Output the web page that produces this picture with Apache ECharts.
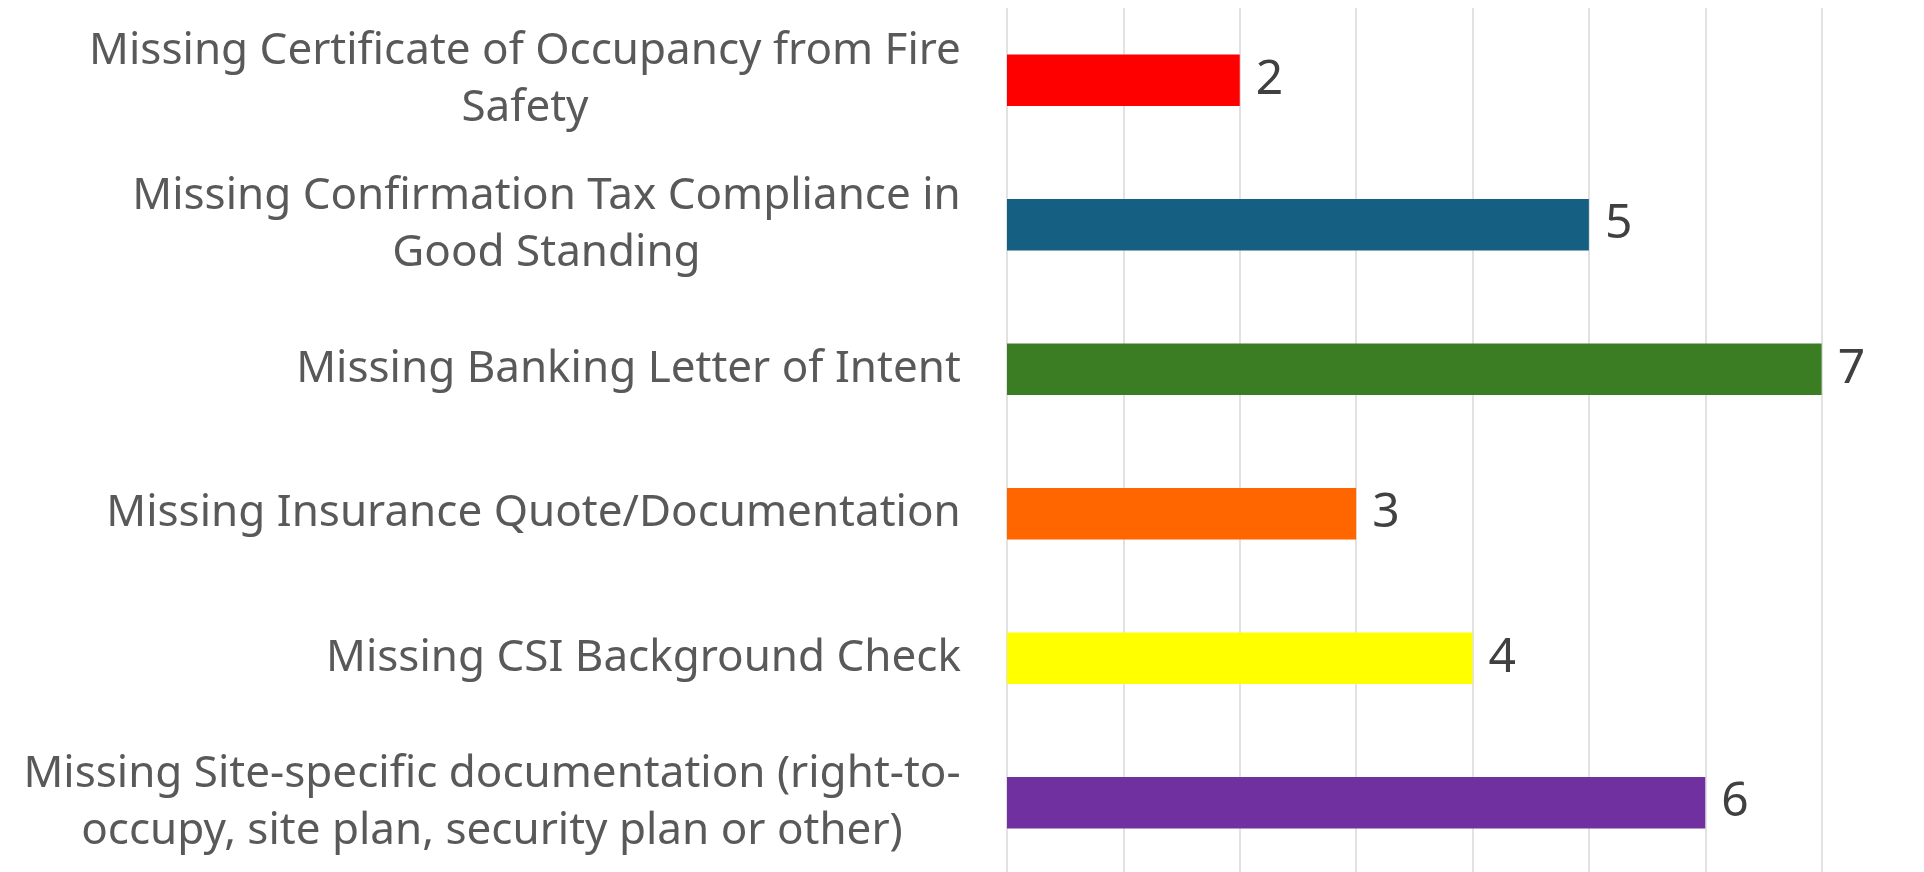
<!DOCTYPE html>
<html>
<head>
<meta charset="utf-8">
<script src="https://cdn.jsdelivr.net/npm/echarts@6/dist/echarts.min.js"></script>
<style>
  html, body { margin: 0; padding: 0; background: #fff; }
  #chart { width: 1924px; height: 872px; }
</style>
</head>
<body>
<div id="chart"></div>
<script>
// categories top to bottom, line breaks as in the original
const categories = [
  'Missing Certificate of Occupancy from Fire\nSafety',
  'Missing Confirmation Tax Compliance in\nGood Standing',
  'Missing Banking Letter of Intent',
  'Missing Insurance Quote/Documentation',
  'Missing CSI Background Check',
  'Missing Site-specific documentation (right-to-\noccupy, site plan, security plan or other)'
]
const counts = [2, 5, 7, 3, 4, 6]
const barColors = ['#FF0000', '#156082', '#3B7D23', '#FF6600', '#FFFF00', '#7030A0']

const FONT = 'Noto Sans'
const LABEL_SIZE = 44
const LABEL_LH = 57

// multi-line labels: lines centred inside the block, block right-aligned to the axis
const ctx = document.createElement('canvas').getContext('2d')
ctx.font = `${LABEL_SIZE}px "${FONT}"`
const rich = {}
categories.forEach((c, i) => {
  const w = Math.max(...c.split('\n').map(l => ctx.measureText(l).width))
  rich['c' + i] = {
    width: Math.ceil(w), align: 'center',
    fontSize: LABEL_SIZE, lineHeight: LABEL_LH, color: '#595959', fontFamily: FONT
  }
})

const chart = echarts.init(document.getElementById('chart'))
chart.setOption({
  animation: false,
  backgroundColor: '#fff',
  grid: { left: 1007, right: -14, top: 8, bottom: -3, containLabel: false, outerBoundsMode: 'none' },
  xAxis: {
    type: 'value', min: 0, max: 8, interval: 1,
    axisLine: { show: false }, axisTick: { show: false }, axisLabel: { show: false },
    splitLine: { lineStyle: { color: '#D9D9D9', width: 1.5 } }
  },
  yAxis: {
    type: 'category', inverse: true, data: categories,
    axisLine: { show: false }, axisTick: { show: false },
    axisLabel: {
      margin: 46, align: 'right', rich,
      formatter: (v, i) => v.split('\n').map(l => `{c${i}|${l}}`).join('\n')
    }
  },
  series: [{
    type: 'bar', barWidth: '35.6%',
    data: counts.map((v, i) => ({ value: v, itemStyle: { color: barColors[i] } })),
    label: {
      show: true, position: 'right', distance: 16,
      fontSize: 48, color: '#404040', fontFamily: FONT
    }
  }]
})
</script>
</body>
</html>
